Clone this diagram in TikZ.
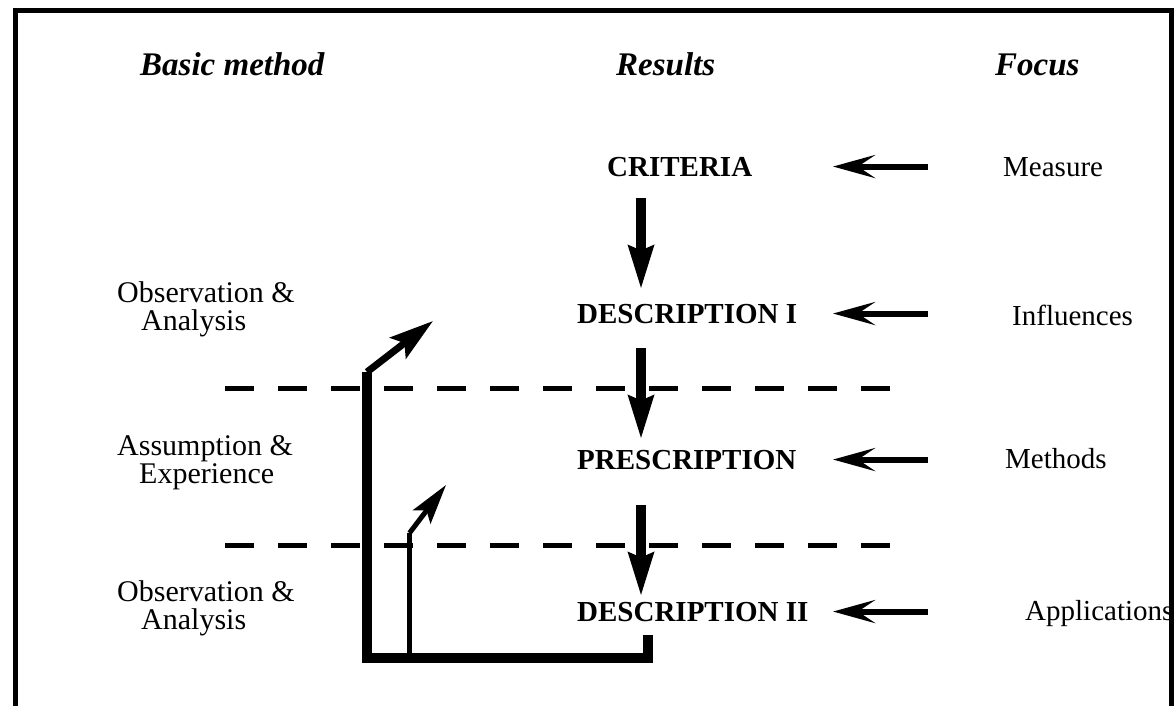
\documentclass[tikz,border=0pt]{standalone}
\usepackage{fontspec}
\setmainfont{Liberation Serif}
\usetikzlibrary{arrows.meta,calc}
\begin{document}
\begin{tikzpicture}[x=1pt,y=-1pt,
  heading/.style={font=\fontsize{33}{36}\selectfont\bfseries\itshape, inner sep=0pt, anchor=base west},
  result/.style={font=\fontsize{29}{32}\selectfont\bfseries, inner sep=0pt, anchor=base west},
  focuslabel/.style={font=\fontsize{29}{32}\selectfont, inner sep=0pt, anchor=base west},
  methodlabel/.style={font=\fontsize{30}{28}\selectfont, inner sep=0pt, anchor=base west, align=left},
  flow/.style={line width=10pt, -{Stealth[length=43pt,width=24pt,inset=4pt]}},
  focusarrow/.style={line width=6pt, -{Stealth[length=42pt,width=23pt,inset=17pt]}},
  separator/.style={line width=5pt, dash pattern=on 29pt off 24pt},
  feedback/.style={line width=10pt},
  feedbackarrow/.style={line width=7pt, -{Stealth[length=44pt,width=26pt,inset=8pt]}},
  thinfeed/.style={line width=5pt},
  thinfeedarrow/.style={line width=5pt, -{Stealth[length=40pt,width=22pt,inset=8pt]}},
]
\useasboundingbox (0,0) rectangle (1174,706);
\clip (0,0) rectangle (1174,706);

% outer frame (runs on below the visible area)
\draw[line width=5pt] (15.5,11) rectangle (1171.5,740);

% column headings
\node[heading] (hbasic) at (140,76) {Basic method};
\node[heading] (hres) at (616,76) {Results};
\node[heading] (hfoc) at (995,76) {Focus};

% results column
\node[result] (crit) at (607,176) {CRITERIA};
\node[result] (d1) at (577,323) {DESCRIPTION I};
\node[result] (pre) at (577,469) {PRESCRIPTION};
\node[result] (d2) at (577,621) {DESCRIPTION II};

% focus column
\node[focuslabel] (meas) at (1003,176) {Measure};
\node[focuslabel] (infl) at (1012,325) {Influences};
\node[focuslabel] (meth) at (1005,468) {Methods};
\node[focuslabel] (appl) at (1025,620) {Applications};

% basic method column (anchored on the baseline of the second line)
\node[methodlabel] (obs1) at (117,330) {Observation \&\\\hspace*{24pt}Analysis};
\node[methodlabel] (assm) at (117,483) {Assumption \&\\\hspace*{22pt}Experience};
\node[methodlabel] (obs2) at (117,629) {Observation \&\\\hspace*{24pt}Analysis};

% phase separators
\draw[separator] (225,388) -- (890,388);
\draw[separator] (225,545) -- (890,545);

% downward flow between results
\coordinate (ax) at (641,0);
\draw[flow, shorten <=22pt, shorten >=14pt] (crit.south -| ax) -- (d1.north -| ax);
\draw[flow, shorten <=25pt, shorten >=10pt] (d1.south -| ax) -- (pre.north -| ax);
\draw[flow, shorten <=36pt, shorten >=5pt] (pre.south -| ax) -- (d2.north -| ax);

% focus arrows
\coordinate (tipx) at (833,0);
\draw[focusarrow, shorten <=75pt] (meas.west |- crit.east) -- (crit.east -| tipx);
\draw[focusarrow, shorten <=84pt] (infl.west |- d1.east) -- (d1.east -| tipx);
\draw[focusarrow, shorten <=77pt] (meth.west |- pre.east) -- (pre.east -| tipx);
\draw[focusarrow, shorten <=97pt] (appl.west |- d2.east) -- (d2.east -| tipx);

% feedback loops
\coordinate (fbx) at (648,0);
\coordinate (loopcorner) at (367,657.5);
\coordinate (loopbend) at (367,372);
\coordinate (loophead) at (433,321);
\draw[feedback] ($(d2.south -| fbx)+(0,14)$) |- (loopcorner) -- (loopbend);
\draw[feedbackarrow] (loopbend) -- (loophead);

\coordinate (innerfoot) at (409.5,657.5);
\coordinate (innerbend) at (409.5,533);
\coordinate (innerhead) at (446,485);
\draw[thinfeed] (innerfoot) -- (innerbend);
\draw[thinfeedarrow] (innerbend) -- (innerhead);
\end{tikzpicture}
\end{document}
